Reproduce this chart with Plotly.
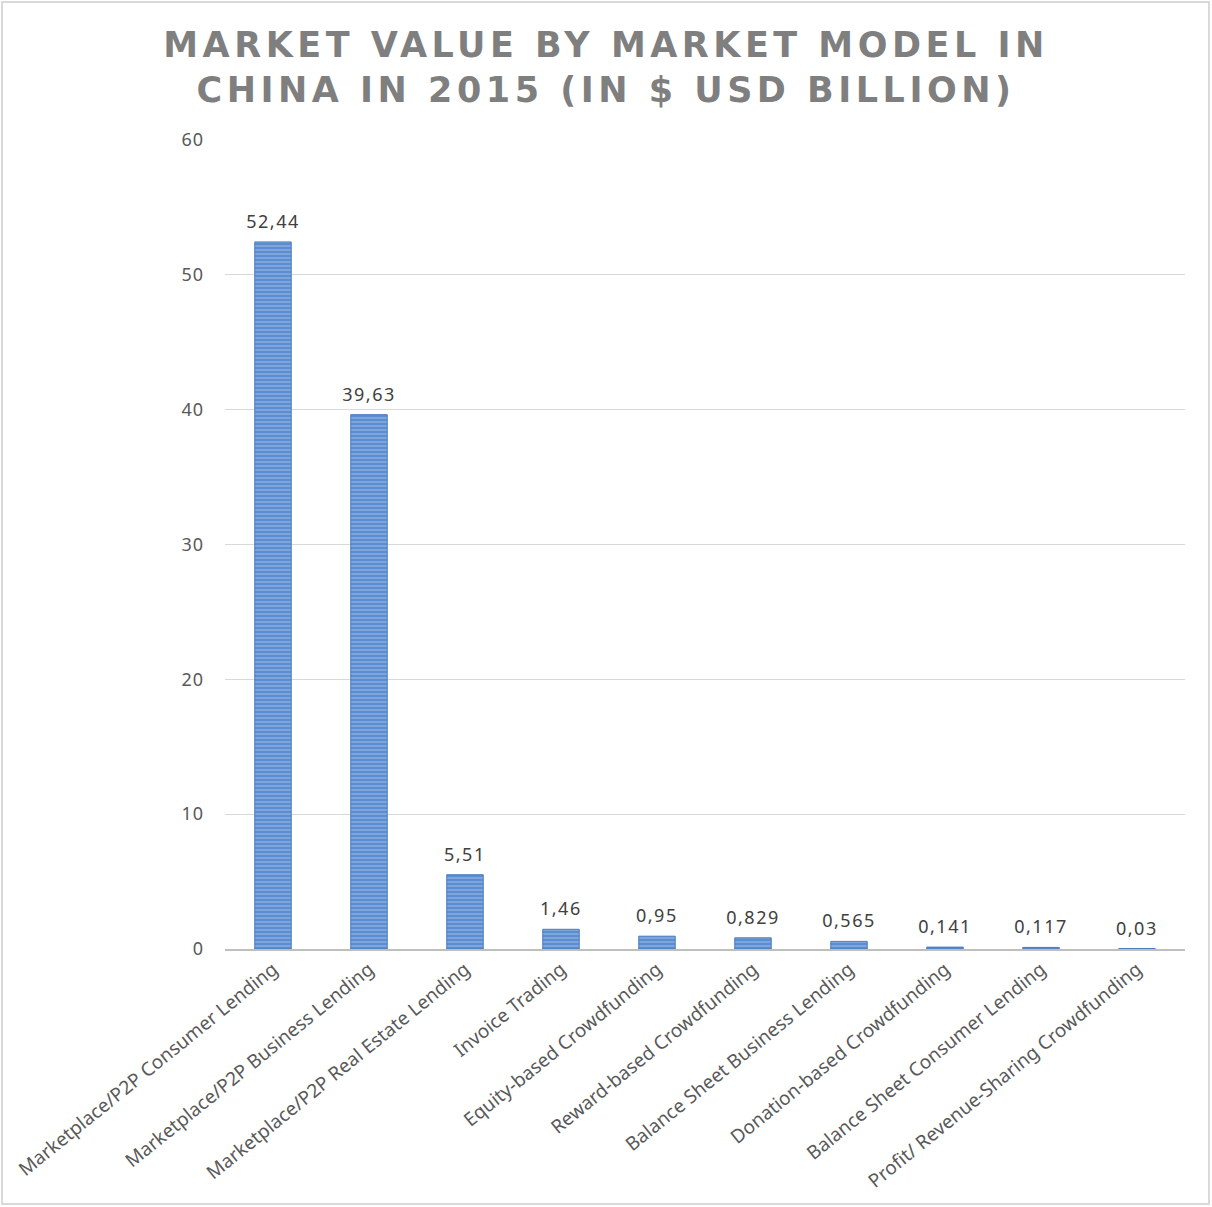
import plotly.graph_objects as go

categories = [
    "Marketplace/P2P Consumer Lending",
    "Marketplace/P2P Business Lending",
    "Marketplace/P2P Real Estate Lending",
    "Invoice Trading",
    "Equity-based Crowdfunding",
    "Reward-based Crowdfunding",
    "Balance Sheet Business Lending",
    "Donation-based Crowdfunding",
    "Balance Sheet Consumer Lending",
    "Profit/ Revenue-Sharing Crowdfunding",
]
values = [52.44, 39.63, 5.51, 1.46, 0.95, 0.829, 0.565, 0.141, 0.117, 0.03]
labels = [str(v).replace(".", ",") for v in values]

fig = go.Figure()
fig.add_trace(go.Bar(
    x=categories,
    y=values,
    cliponaxis=False,
    marker=dict(
        color="#5b8ed1",
        line=dict(color="#4a7bbf", width=1),
        pattern=dict(shape="-", fgcolor="#a9c4e8", bgcolor="#5b8ed1",
                     size=4, solidity=0.45, fillmode="overlay"),
    ),
))

for c, v, s in zip(categories, values, labels):
    fig.add_annotation(
        x=c, y=v, text=s, showarrow=False,
        yanchor="middle", yshift=21,
        font=dict(family="Noto Sans", size=18, color="#404040"),
    )

W, H = 1212, 1207
l, r, t, b = 225, 27, 140, 258
pw, ph = W - l - r, H - t - b

def px(x):
    return (x - l) / pw

def py(y):
    return (H - b - y) / ph

fig.update_layout(
    width=W, height=H,
    margin=dict(l=l, r=r, t=t, b=b),
    paper_bgcolor="white",
    plot_bgcolor="white",
    bargap=0.62,
    showlegend=False,
    title=dict(
        text="MARKET VALUE BY MARKET MODEL IN<br>CHINA IN 2015 (IN $ USD BILLION)",
        x=0.5, xanchor="center", y=0.953, yanchor="top",
        font=dict(family="DejaVu Sans", size=35, color="#7f7f7f", weight="bold"),
    ),
    xaxis=dict(
        tickangle=-39,
        tickfont=dict(family="Noto Sans", size=19, color="#595959"),
        showline=True, linecolor="#bfbfbf", linewidth=2,
        ticks="",
    ),
    yaxis=dict(
        range=[0, 60], dtick=10,
        showgrid=True, gridcolor="#d9d9d9", gridwidth=1,
        zeroline=False,
        tickfont=dict(family="Noto Sans", size=18, color="#595959"),
        ticklabelstandoff=20,
    ),
    shapes=[dict(
        type="rect", xref="paper", yref="paper",
        x0=px(2), x1=px(1209), y0=py(1204), y1=py(2),
        line=dict(color="#d9d9d9", width=2), layer="below",
    )],
)

post = (
    "document.body.style.margin='0px';"
    "document.querySelectorAll('.gtitle').forEach(function(e){e.style.letterSpacing='4.5px';});"
    "document.querySelectorAll('.annotation-text').forEach(function(e){e.style.letterSpacing='1.5px';});"
    "document.querySelectorAll('.ytick text').forEach(function(e){e.style.letterSpacing='1px';});"
)
fig.write_html("out.html", post_script=post, config={"displayModeBar": False})
